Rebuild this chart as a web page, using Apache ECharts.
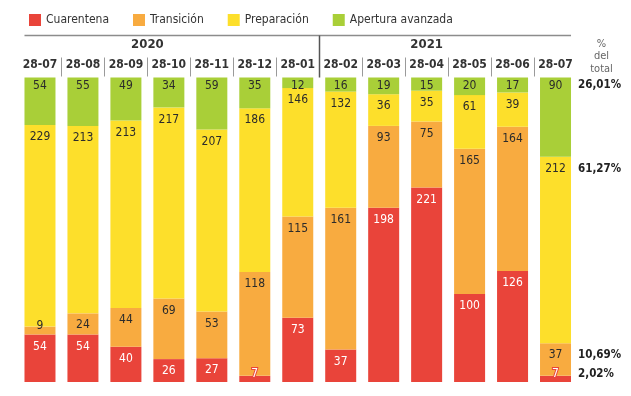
<!DOCTYPE html>
<html>
<head>
<meta charset="utf-8">
<script src="https://cdn.jsdelivr.net/npm/echarts@6/dist/echarts.min.js"></script>
<style>
html,body{margin:0;padding:0;background:#fff;}
#chart{width:631px;height:396px;}
</style>
</head>
<body>
<div id="chart"></div>
<script>
// ---- data ----
const tickLabels = ['28-07','28-08','28-09','28-10','28-11','28-12','28-01','28-02','28-03','28-04','28-05','28-06','28-07'];
const yearLabels = ['2020','2021'];
const seriesNames = ['Cuarentena','Transición','Preparación','Apertura avanzada'];
const cuarentena = [54,54,40,26,27,7,73,37,198,221,100,126,7];
const transicion = [9,24,44,69,53,118,115,161,93,75,165,164,37];
const preparacion = [229,213,213,217,207,186,146,132,36,35,61,39,212];
const apertura = [54,55,49,34,59,35,12,16,19,15,20,17,90];
const pctLabels = ['2,02%','10,69%','61,27%','26,01%'];
const pctHeader = ['%','del','total'];
const total = 346;

const FONT = "'Liberation Sans Narrow','DejaVu Sans Condensed',sans-serif";
const colors = ['#e9443a','#f8ab40','#fddf2b','#a9cf38'];
const textColors = ['#ffffff','#2b2b2b','#2b2b2b','#2b2b2b'];
const BAR_W = 31;
const VAL_SIZE = 12;

function buildData(values, s) {
  return values.map(function (v, i) {
    const item = { value: v };
    const last = i === values.length - 1;
    const small = v < 10;
    const lbl = {};
    if (small && !last) {
      lbl.position = 'inside';
      lbl.offset = [0, -5];
      if (s === 0) { lbl.textBorderColor = colors[0]; lbl.textBorderWidth = 2; }
    }
    if (last) {
      const dy = small ? -2 : (s === 3 ? 8 : 12);
      const border = small && s === 0;
      lbl.position = [0, dy];
      lbl.align = 'left';
      lbl.verticalAlign = 'middle';
      lbl.formatter = '{v|' + v + '}{p|' + pctLabels[s] + '}';
      lbl.rich = {
        v: { width: BAR_W, align: 'center', fontSize: VAL_SIZE, fontFamily: FONT, color: textColors[s],
             textBorderColor: border ? colors[0] : 'transparent', textBorderWidth: border ? 2 : 0 },
        p: { padding: [0, 0, 0, 7], fontWeight: 'bold', fontSize: 11.5, fontFamily: FONT, color: '#222',
             textBorderColor: 'transparent', textBorderWidth: 0 }
      };
    }
    item.label = lbl;
    return item;
  });
}

const allValues = [cuarentena, transicion, preparacion, apertura];

const chart = echarts.init(document.getElementById('chart'), null, { renderer: 'canvas' });

const option = {
  backgroundColor: '#ffffff',
  animation: false,
  color: colors,
  legend: {
    left: 29, top: 14, padding: 0,
    itemWidth: 12, itemHeight: 12, itemGap: 24,
    icon: 'rect',
    data: seriesNames,
    textStyle: { fontSize: 12, fontFamily: FONT, color: '#333' }
  },
  grid: { left: 18.5, right: 54, top: 77.5, bottom: 14 },
  xAxis: {
    type: 'category',
    position: 'top',
    data: tickLabels,
    axisLine: { show: false },
    axisTick: { show: false },
    axisLabel: { interval: 0, fontSize: 12, fontWeight: 'bold', fontFamily: FONT, color: '#333', margin: 7 }
  },
  yAxis: {
    type: 'value', min: 0, max: total, show: false, splitLine: { show: false }
  },
  series: allValues.map(function (vals, s) {
    return {
      name: seriesNames[s],
      type: 'bar',
      stack: 'total',
      barWidth: BAR_W,
      itemStyle: { color: colors[s] },
      label: {
        show: true,
        position: 'insideTop',
        distance: s === 3 ? 2 : 6,
        fontSize: VAL_SIZE,
        fontFamily: FONT,
        color: textColors[s]
      },
      data: buildData(vals, s)
    };
  })
};
chart.setOption(option);

// decorations derived from the axis scale
function px(i) { return chart.convertToPixel({ xAxisIndex: 0 }, i); }
const graphics = [];
const lineY = 35.5, gridTop = 77.5;
graphics.push({
  type: 'line', shape: { x1: px(0) - BAR_W / 2, y1: lineY, x2: px(tickLabels.length - 1) + BAR_W / 2, y2: lineY },
  style: { stroke: '#8c8c8c', lineWidth: 1.5 }, silent: true
});
for (let i = 0; i < tickLabels.length - 1; i++) {
  const x = Math.round((px(i) + px(i + 1)) / 2) + 0.5;
  const big = i === 6;
  graphics.push({
    type: 'line',
    shape: { x1: x, y1: big ? lineY : 57.5, x2: x, y2: gridTop - (big ? 0 : 1) },
    style: { stroke: big ? '#555' : '#9a9a9a', lineWidth: big ? 1.5 : 1 }, silent: true
  });
}
graphics.push({
  type: 'text', x: (px(2) + px(3)) / 2, y: 45,
  style: { text: yearLabels[0], fontSize: 13, fontWeight: 'bold', fontFamily: FONT, fill: '#333', align: 'center', verticalAlign: 'middle' }
});
graphics.push({
  type: 'text', x: px(9), y: 45,
  style: { text: yearLabels[1], fontSize: 13, fontWeight: 'bold', fontFamily: FONT, fill: '#333', align: 'center', verticalAlign: 'middle' }
});
const hx = px(tickLabels.length - 1) + 46;
pctHeader.forEach(function (t, k) {
  graphics.push({
    type: 'text', x: hx, y: 44 + k * 12.5,
    style: { text: t, fontSize: 11, fontFamily: FONT, fill: '#666', align: 'center', verticalAlign: 'middle' }
  });
});
chart.setOption({ graphic: graphics });
</script>
</body>
</html>
